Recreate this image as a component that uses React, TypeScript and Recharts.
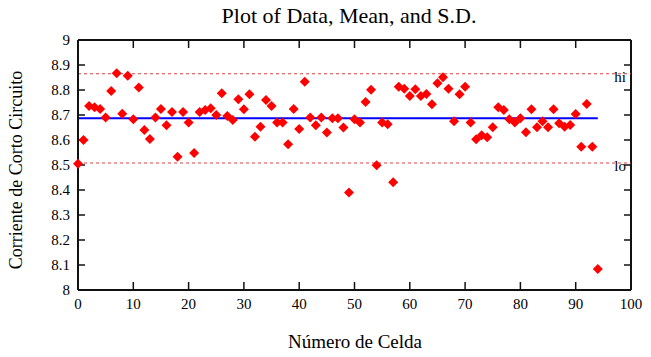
import React from 'react';
import { ScatterChart, Scatter, XAxis, YAxis, ReferenceLine } from 'recharts';

const cellNumbers = [
  0, 1, 2, 3, 4, 5, 6, 7, 8, 9, 10, 11, 12, 13, 14, 15, 16, 17, 18, 19,
  20, 21, 22, 23, 24, 25, 26, 27, 28, 29, 30, 31, 32, 33, 34, 35, 36, 37, 38, 39,
  40, 41, 42, 43, 44, 45, 46, 47, 48, 49, 50, 51, 52, 53, 54, 55, 56, 57, 58, 59,
  60, 61, 62, 63, 64, 65, 66, 67, 68, 69, 70, 71, 72, 73, 74, 75, 76, 77, 78, 79,
  80, 81, 82, 83, 84, 85, 86, 87, 88, 89, 90, 91, 92, 93, 94,
];

const currentValues = [
  8.505, 8.60, 8.736, 8.731, 8.724, 8.69, 8.796, 8.867, 8.705, 8.857,
  8.683, 8.81, 8.64, 8.604, 8.69, 8.724, 8.659, 8.712, 8.533, 8.712,
  8.67, 8.548, 8.712, 8.72, 8.727, 8.70, 8.787, 8.696, 8.68, 8.763,
  8.723, 8.783, 8.613, 8.653, 8.76, 8.736, 8.67, 8.67, 8.583, 8.724,
  8.644, 8.833, 8.69, 8.659, 8.69, 8.63, 8.687, 8.687, 8.65, 8.39,
  8.683, 8.67, 8.752, 8.801, 8.499, 8.67, 8.663, 8.431, 8.813, 8.805,
  8.776, 8.803, 8.776, 8.784, 8.743, 8.827, 8.851, 8.805, 8.675, 8.783,
  8.813, 8.67, 8.603, 8.619, 8.611, 8.651, 8.731, 8.72, 8.683, 8.67,
  8.687, 8.631, 8.723, 8.651, 8.675, 8.651, 8.723, 8.667, 8.653, 8.66,
  8.704, 8.573, 8.744, 8.573, 8.084,
];

const xTicks = [0, 10, 20, 30, 40, 50, 60, 70, 80, 90, 100];
const xInnerTicks = [10, 20, 30, 40, 50, 60, 70, 80, 90];
const yTicks = [8, 8.1, 8.2, 8.3, 8.4, 8.5, 8.6, 8.7, 8.8, 8.9, 9];
const yInnerTicks = [8.1, 8.2, 8.3, 8.4, 8.5, 8.6, 8.7, 8.8, 8.9];

const xMin = 0;
const xMax = 100;
const yMin = 8;
const yMax = 9;

const meanValue = 8.687;
const hiLimit = 8.865;
const loLimit = 8.508;
const firstCell = 0;
const lastCell = 94;

const titleText = 'Plot of Data, Mean, and S.D.';
const xLabelText = 'Número de Celda';
const yLabelText = 'Corriente de Corto Circuito';

const data = cellNumbers.map((c, i) => ({ cell: c, value: currentValues[i] }));
const bottomTickPts = xInnerTicks.map((v) => ({ cell: v, value: yMin }));
const topTickPts = xInnerTicks.map((v) => ({ cell: v, value: yMax }));
const leftTickPts = yInnerTicks.map((v) => ({ cell: xMin, value: v }));
const rightTickPts = yInnerTicks.map((v) => ({ cell: xMax, value: v }));

const FONT = 'Liberation Serif';
const INK = '#111111';

const fmtY = (v: number) => (v === 9 || v === 8 ? String(v) : v.toFixed(1));

const Diamond = (props: any) => {
  const { cx, cy } = props;
  if (cx == null || cy == null) return null;
  const r = 5;
  return (
    <path
      d={`M${cx},${cy - r} L${cx + r},${cy} L${cx},${cy + r} L${cx - r},${cy} Z`}
      fill="#ff0000"
      stroke="none"
    />
  );
};

const UpTick = (props: any) => (
  <path d={`M${props.cx},${props.cy} L${props.cx},${props.cy - 8}`} stroke={INK} strokeWidth={1.5} fill="none" />
);
const DownTick = (props: any) => (
  <path d={`M${props.cx},${props.cy} L${props.cx},${props.cy + 8}`} stroke={INK} strokeWidth={1.5} fill="none" />
);
const RightwardTick = (props: any) => (
  <path d={`M${props.cx},${props.cy} L${props.cx + 7},${props.cy}`} stroke={INK} strokeWidth={1.5} fill="none" />
);
const LeftwardTick = (props: any) => (
  <path d={`M${props.cx},${props.cy} L${props.cx - 7},${props.cy}`} stroke={INK} strokeWidth={1.5} fill="none" />
);

const LimitLabel = (props: any) => {
  const vb = props.viewBox || { x: 78, y: 0, width: 553, height: 0 };
  return (
    <text
      x={vb.x + vb.width - 5}
      y={vb.y + 3}
      textAnchor="end"
      dominantBaseline="central"
      fontFamily={FONT}
      fontSize={15}
      fill="#000"
    >
      {props.text}
    </text>
  );
};

const baseText = {
  position: 'absolute' as const,
  whiteSpace: 'nowrap' as const,
  fontFamily: FONT,
  color: '#000',
  lineHeight: 1,
};

export default function App() {
  return (
    <div style={{ position: 'absolute', left: 0, top: 0, width: 651, height: 357, background: '#fff' }}>
      <ScatterChart width={651} height={357} margin={{ top: 40, right: 20, bottom: 0, left: 0 }}>
        <XAxis
          dataKey="cell"
          type="number"
          domain={[xMin, xMax]}
          ticks={xTicks}
          interval={0}
          tickLine={false}
          height={67}
          axisLine={{ stroke: INK, strokeWidth: 2 }}
          tick={{ fontFamily: FONT, fontSize: 15, fill: '#000' }}
        />
        <YAxis
          dataKey="value"
          type="number"
          domain={[yMin, yMax]}
          ticks={yTicks}
          interval={0}
          tickLine={false}
          width={78}
          axisLine={{ stroke: INK, strokeWidth: 2 }}
          tickFormatter={fmtY}
          tick={{ fontFamily: FONT, fontSize: 15, fill: '#000' }}
        />
        <ReferenceLine y={yMax} stroke={INK} strokeWidth={2} ifOverflow="visible" />
        <ReferenceLine x={xMax} stroke={INK} strokeWidth={2} ifOverflow="visible" />
        <ReferenceLine
          y={hiLimit}
          stroke="#e03c3c"
          strokeDasharray="3 3"
          strokeWidth={1}
          label={<LimitLabel text="hi" />}
        />
        <ReferenceLine
          y={loLimit}
          stroke="#e03c3c"
          strokeDasharray="3 3"
          strokeWidth={1}
          label={<LimitLabel text="lo" />}
        />
        <ReferenceLine
          segment={[
            { x: firstCell, y: meanValue },
            { x: lastCell, y: meanValue },
          ]}
          stroke="#0000ff"
          strokeWidth={2}
        />
        <Scatter data={bottomTickPts} shape={<UpTick />} isAnimationActive={false} />
        <Scatter data={topTickPts} shape={<DownTick />} isAnimationActive={false} />
        <Scatter data={leftTickPts} shape={<RightwardTick />} isAnimationActive={false} />
        <Scatter data={rightTickPts} shape={<LeftwardTick />} isAnimationActive={false} />
        <Scatter data={data} shape={<Diamond />} isAnimationActive={false} />
      </ScatterChart>
      <div style={{ ...baseText, left: 349, top: 5, transform: 'translateX(-50%)', fontSize: 22 }}>{titleText}</div>
      <div style={{ ...baseText, left: 355, top: 332, transform: 'translateX(-50%)', fontSize: 19 }}>{xLabelText}</div>
      <div
        style={{
          ...baseText,
          left: 16,
          top: 170,
          transform: 'translate(-50%, -50%) rotate(-90deg)',
          fontSize: 18,
        }}
      >
        {yLabelText}
      </div>
    </div>
  );
}
